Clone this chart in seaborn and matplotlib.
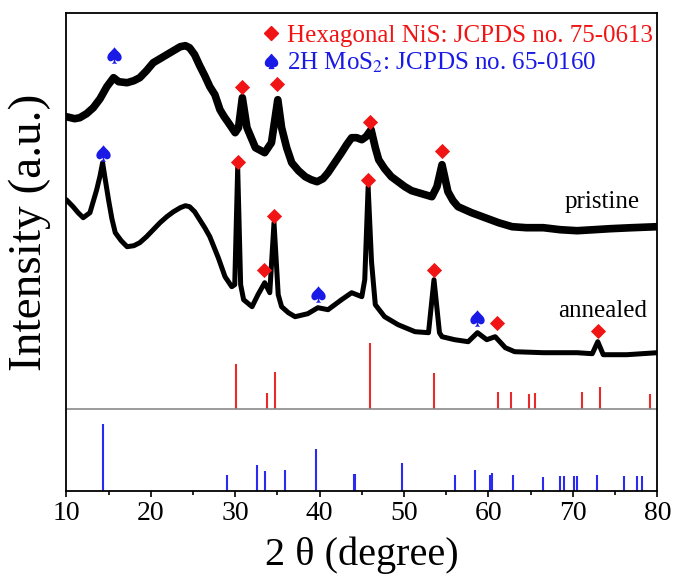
import numpy as np
import pandas as pd
import seaborn as sns
import matplotlib.pyplot as plt
from matplotlib.lines import Line2D

sns.set_theme(style="ticks")
plt.rcParams['font.family'] = ['Liberation Serif', 'DejaVu Sans']
plt.rcParams['mathtext.fontset'] = 'stix'
plt.rcParams['text.color'] = 'black'
plt.rcParams['axes.labelcolor'] = 'black'
plt.rcParams['xtick.color'] = 'black'

RED = '#f01414'
BLUE = '#1a1ae6'

# XRD patterns (2theta in degree, intensity in a.u.)
pristine_2t = [10.0, 11.0, 11.6, 12.4, 13.2, 14.0, 14.8, 15.6, 16.2, 17.2, 18.0, 18.7,
               19.5, 20.3, 21.1, 21.9, 22.7, 23.5, 24.1, 24.6, 25.2, 25.8, 26.4, 27.0,
               27.6, 28.2, 28.7, 29.2, 30.0, 30.4, 30.85, 31.4, 32.4, 33.5, 34.3,
               35.05, 35.5, 36.1, 36.7, 37.5, 38.3, 39.0, 39.7, 40.4, 41.0, 41.8, 42.6,
               43.2, 43.8, 44.4, 45.0, 45.5, 46.1, 46.6, 47.0, 47.7, 48.5, 49.3, 50.1,
               50.9, 51.7, 52.5, 53.3, 53.9, 54.5, 55.2, 55.8, 56.4, 57.2, 58.0, 59.6,
               61.2, 62.8, 64.5, 66.5, 68.5, 70.5, 72.5, 74.4, 77.0, 80.0]
pristine_int = [374, 372, 373, 377, 383, 392, 404, 413, 409, 408, 410, 413,
                420, 428, 432, 436, 440, 444, 445, 443, 436, 425, 415, 404,
                396, 381, 374, 368, 358, 363, 393, 363, 343, 338, 348,
                391, 363, 343, 328, 320, 314, 311, 309, 312, 318, 328, 338,
                346, 353, 353, 351, 354, 361, 343, 331, 322, 314, 309, 304,
                300, 298, 296, 294, 304, 326, 299, 290, 284, 281, 278, 273,
                268, 264, 263, 263, 261, 260, 261, 262, 263, 264]

annealed_2t = [10.0, 10.8, 11.4, 12.0, 12.8, 13.6, 14.0, 14.3, 14.6, 15.0, 15.4, 15.8,
               16.5, 17.2, 18.0, 18.7, 19.5, 20.3, 21.1, 21.9, 22.7, 23.5, 24.1, 24.6,
               25.2, 25.8, 26.4, 27.0, 28.0, 28.8, 29.6, 29.95, 30.3, 30.65, 31.0, 32.0,
               32.7, 33.5, 34.1, 34.6, 35.1, 35.5, 36.3, 37.1, 38.6, 39.8, 41.0, 42.6, 43.8,
               45.0, 45.35, 45.75, 46.15, 46.6, 47.7, 49.3, 51.3, 52.9, 53.55, 54.2, 54.5,
               56.0, 57.6, 58.7, 59.8, 60.8, 62.0, 63.1, 66.5, 70.5, 72.3, 72.95, 73.6,
               76.4, 80.0]
annealed_int = [291, 284, 278, 273, 278, 301, 315, 328, 312, 291, 272, 258,
                250, 244, 245, 248, 254, 261, 268, 274, 279, 283, 285, 284,
                279, 271, 263, 254, 233, 214, 204, 206, 323, 206, 191, 184,
                196, 208, 198, 268, 196, 184, 178, 174, 177, 183, 181, 191, 198,
                194, 211, 304, 229, 186, 174, 166, 159, 158, 211, 158, 154,
                151, 149, 158, 151, 154, 143, 139, 138, 138, 137, 149, 136,
                136, 138]

# peak markers
pristine_nis_2t = [30.85, 35.0, 46.0, 54.5]
pristine_nis_int = [404, 407, 369, 340]
pristine_mos2_2t = [15.7]
pristine_mos2_int = [436]
annealed_nis_2t = [30.3, 33.45, 34.6, 45.7, 53.55, 61.0, 73.0]
annealed_nis_int = [329, 221, 275, 311, 221, 168, 160]
annealed_mos2_2t = [14.3, 39.85, 58.7]
annealed_mos2_int = [338, 197, 173]

# reference patterns
nis_ref_2t = [30.14, 33.81, 34.69, 45.94, 53.56, 61.09, 62.72, 64.86, 65.46, 71.13, 73.22, 79.18]
nis_ref_int = [45, 16, 37, 66, 36, 17, 17, 15, 16, 17, 22, 15]
mos2_ref_2t = [14.37, 29.01, 32.64, 33.48, 35.9, 39.57, 44.1, 44.2, 49.8, 56.02, 58.35,
               60.21, 60.44, 62.86, 66.49, 68.48, 69.0, 70.16, 70.44, 72.81, 76.01, 77.64, 78.15]
mos2_ref_int = [67, 16, 26, 20, 21, 42, 17, 17, 28, 16, 21,
                16, 18, 16, 14, 15, 15, 15, 15, 16, 15, 15, 15]
NIS_BASE = 82

fig = plt.figure(figsize=(6.75, 5.87), dpi=100)
ax = fig.add_axes([66.3 / 675, 1 - 490.7 / 587, 591 / 675, 478 / 587])

sns.lineplot(x=pristine_2t, y=pristine_int, sort=False, color='black', linewidth=5.5, ax=ax)
sns.lineplot(x=annealed_2t, y=annealed_int, sort=False, color='black', linewidth=3.6, ax=ax)

sns.scatterplot(x=pristine_nis_2t + annealed_nis_2t, y=pristine_nis_int + annealed_nis_int,
                marker='D', color=RED, s=60, linewidth=0, ax=ax, zorder=5)
sns.scatterplot(x=pristine_mos2_2t + annealed_mos2_2t, y=pristine_mos2_int + annealed_mos2_int,
                marker=r'$\spadesuit$', color=BLUE, s=140, linewidth=0, ax=ax, zorder=5)

ax.vlines(nis_ref_2t, NIS_BASE, np.array(nis_ref_int) + NIS_BASE, color='#e82a2a', linewidth=1.5)
ax.vlines(mos2_ref_2t, 0, mos2_ref_int, color='#2a2af0', linewidth=1.5)
ax.axhline(NIS_BASE, color='#8a8a8a', linewidth=1.2)

ax.text(77.95, 289, 'pristine', ha='right', va='center', fontsize=18)
ax.text(78.8, 180, 'annealed', ha='right', va='center', fontsize=18)

handles = [Line2D([], [], marker='D', color=RED, ls='none', ms=7),
           Line2D([], [], marker=r'$\spadesuit$', color=BLUE, ls='none', ms=10)]
ax.legend(handles, ['Hexagonal NiS: JCPDS no. 75-0613', r'2H MoS$_2$: JCPDS no. 65-0160'],
          loc='upper right', bbox_to_anchor=(0.993, 0.976), borderaxespad=0, borderpad=0,
          frameon=False, fontsize=18, labelcolor=[RED, BLUE], handlelength=0.7,
          handletextpad=0.3, labelspacing=0.15)

ax.set_xlim(10, 80)
ax.set_ylim(0, 478)
ax.set_xticks(range(10, 81, 10))
ax.set_xticks(range(15, 80, 10), minor=True)
ax.set_yticks([])
ax.tick_params(axis='x', which='major', direction='out', length=4.5, width=1.2,
               labelsize=20, pad=3, color='black', labelcolor='black')
ax.tick_params(axis='x', which='minor', direction='out', length=3, width=1.2,
               bottom=True, color='black')
for sp in ax.spines.values():
    sp.set_linewidth(1.3)
    sp.set_color('black')

ax.set_xlabel('2 θ (degree)', fontsize=29, va='center', color='black')
ax.xaxis.set_label_coords(0.5, (490.7 - 555) / 478)
ax.set_ylabel('Intensity (a.u.)', fontsize=34, va='center', color='black')
ax.yaxis.set_label_coords((30 - 66.3) / 591, (490.7 - 232) / 478)

fig.savefig('out.png', dpi=100)
